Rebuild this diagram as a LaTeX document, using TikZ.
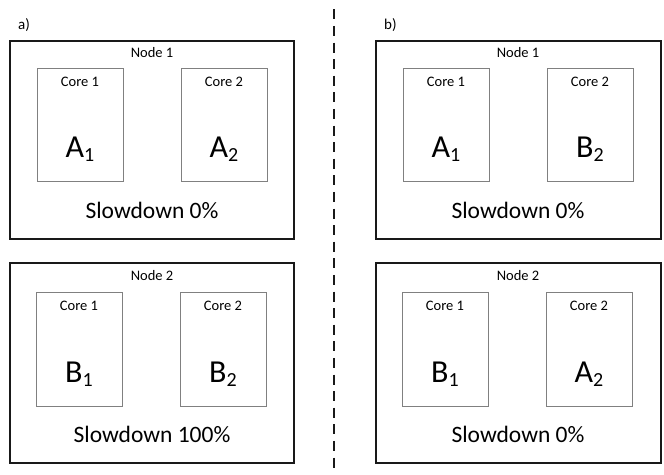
\documentclass[tikz,border=0pt]{standalone}
\usepackage{fontspec}
\setmainfont{Carlito}
\begin{document}
\begin{tikzpicture}[x=1pt,y=-1pt,
  nodebox/.style={draw=black!90,line width=1.6pt},
  corebox/.style={draw=black!50,line width=0.8pt},
  smalllabel/.style={anchor=base,inner sep=0pt,font=\fontsize{14.5}{16}\selectfont},
  panellabel/.style={anchor=base west,inner sep=0pt,font=\fontsize{15}{17}\selectfont},
  joblabel/.style={anchor=base,inner sep=0pt,font=\fontsize{32}{34}\selectfont},
  slowlabel/.style={anchor=base,inner sep=0pt,font=\fontsize{23.5}{26}\selectfont},
  divider/.style={draw=black!90,line width=2pt,dash pattern=on 10pt off 6.6pt}]
\newcommand{\tasklabel}[2]{#1\raisebox{-4.5pt}{\fontsize{20}{22}\selectfont #2}}
\useasboundingbox (0,0) rectangle (664,474);

% dashed separator between the two placements
\coordinate (divtop) at (334,9.3);
\coordinate (divbot) at (334,474);
\draw[divider] (divtop) -- (divbot);

% ---------- a) ----------
\node[panellabel] (pa) at (18,29) {a)};
\draw[nodebox] (10,41) rectangle (294,239);
\node[smalllabel] (an1) at (152,57) {Node 1};
\draw[corebox] (37,68) rectangle (123,181);
\draw[corebox] (181,68) rectangle (267,181);
\node[smalllabel] (an1c1) at (80,86) {Core 1};
\node[smalllabel] (an1c2) at (224,86) {Core 2};
\node[joblabel] (an1j1) at (80,157) {\tasklabel{A}{1}};
\node[joblabel] (an1j2) at (224,157) {\tasklabel{A}{2}};
\node[slowlabel] (an1s) at (152,218) {Slowdown 0\%};

\draw[nodebox] (10,263) rectangle (294,463);
\node[smalllabel] (an2) at (152,280) {Node 2};
\draw[corebox] (36,292) rectangle (122,406);
\draw[corebox] (180,292) rectangle (266,406);
\node[smalllabel] (an2c1) at (79,310) {Core 1};
\node[smalllabel] (an2c2) at (223,310) {Core 2};
\node[joblabel] (an2j1) at (79,382) {\tasklabel{B}{1}};
\node[joblabel] (an2j2) at (223,382) {\tasklabel{B}{2}};
\node[slowlabel] (an2s) at (152,442) {Slowdown 100\%};

% ---------- b) ----------
\node[panellabel] (pb) at (384,29) {b)};
\draw[nodebox] (376,41) rectangle (661,239);
\node[smalllabel] (bn1) at (518,57) {Node 1};
\draw[corebox] (403,68) rectangle (489,181);
\draw[corebox] (547,68) rectangle (633,181);
\node[smalllabel] (bn1c1) at (446,86) {Core 1};
\node[smalllabel] (bn1c2) at (590,86) {Core 2};
\node[joblabel] (bn1j1) at (446,157) {\tasklabel{A}{1}};
\node[joblabel] (bn1j2) at (590,157) {\tasklabel{B}{2}};
\node[slowlabel] (bn1s) at (518,218) {Slowdown 0\%};

\draw[nodebox] (376,263) rectangle (661,463);
\node[smalllabel] (bn2) at (518,280) {Node 2};
\draw[corebox] (402,292) rectangle (488,406);
\draw[corebox] (546,292) rectangle (632,406);
\node[smalllabel] (bn2c1) at (445,310) {Core 1};
\node[smalllabel] (bn2c2) at (589,310) {Core 2};
\node[joblabel] (bn2j1) at (445,382) {\tasklabel{B}{1}};
\node[joblabel] (bn2j2) at (589,382) {\tasklabel{A}{2}};
\node[slowlabel] (bn2s) at (518,442) {Slowdown 0\%};
\end{tikzpicture}
\end{document}
